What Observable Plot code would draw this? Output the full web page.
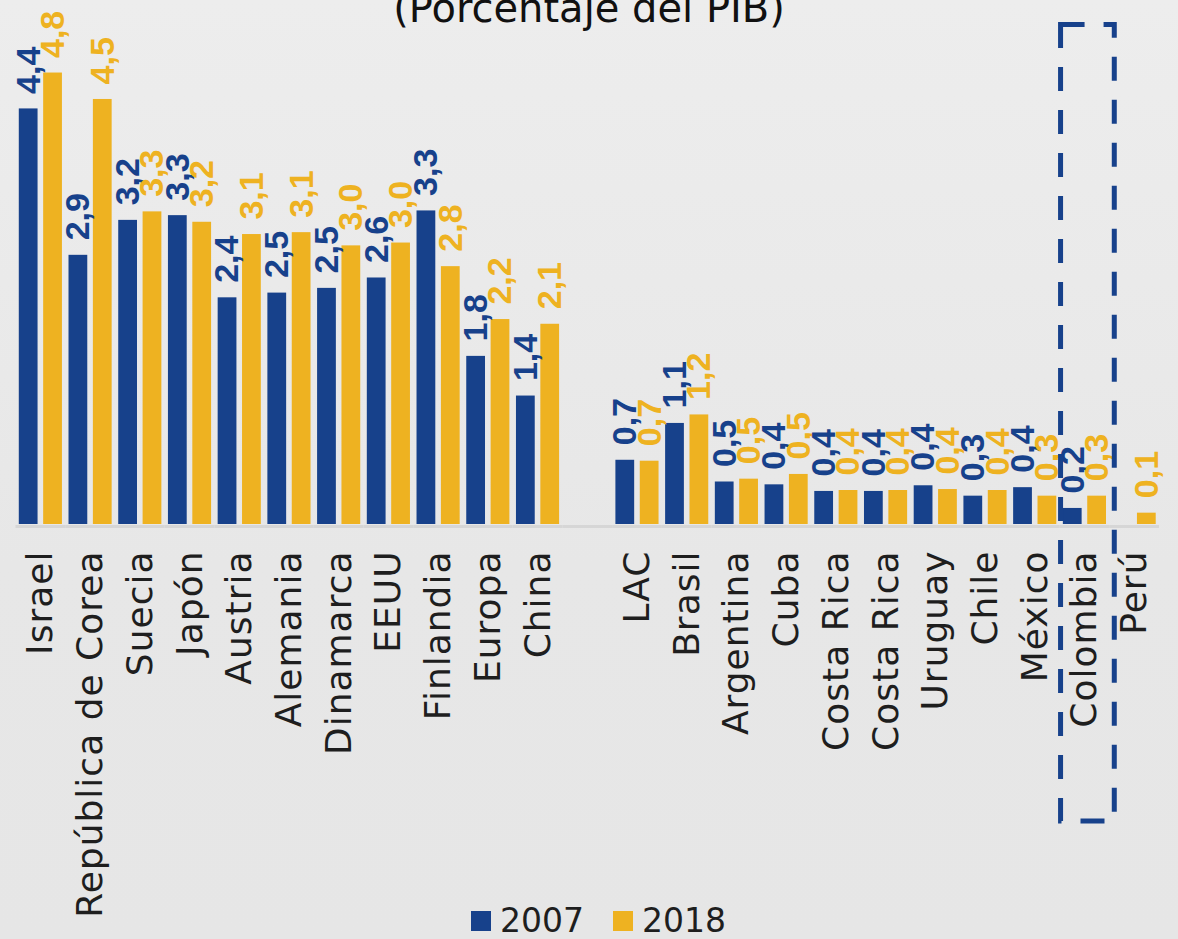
<!DOCTYPE html>
<html>
<head>
<meta charset="utf-8">
<script src="https://cdn.jsdelivr.net/npm/d3@7"></script>
<script src="https://cdn.jsdelivr.net/npm/@observablehq/plot@0.6"></script>
<style>
  html, body { margin: 0; padding: 0; }
  body {
    width: 1178px; height: 939px; overflow: hidden; position: relative;
    background: linear-gradient(#ededed, #e7e7e7 60%, #e6e6e6);
    font-family: "DejaVu Sans", sans-serif;
  }
  #title {
    position: absolute; left: 0; top: -12px; width: 1178px; text-align: center;
    font-size: 40px; line-height: 40px; color: #111;
  }
  #chart { position: absolute; left: 0; top: 0; }
  #legend {
    position: absolute; left: 471px; top: 903px; display: flex; align-items: center;
    font-size: 33px; color: #1e1e1e; line-height: 36px;
  }
  .sw { width: 20px; height: 20px; display: inline-block; margin-right: 9px; }
  .item { display: flex; align-items: center; margin-right: 29px; }
</style>
</head>
<body>
<div id="title">(Porcentaje del PIB)</div>
<div id="chart"></div>
<div id="legend"></div>
<script>
const categories = ["Israel","República de Corea","Suecia","Japón","Austria","Alemania","Dinamarca","EEUU","Finlandia","Europa","China","",
  "LAC","Brasil","Argentina","Cuba","Costa Rica","Costa Rica","Uruguay","Chile","México","Colombia","Perú"];
const series = ["2007","2018"];
const v2007 = [4.40,2.85,3.22,3.27,2.40,2.45,2.50,2.61,3.32,1.78,1.36,null,
  0.68,1.07,0.45,0.42,0.35,0.35,0.41,0.30,0.39,0.17,null];
const v2018 = [4.78,4.50,3.31,3.20,3.07,3.09,2.95,2.98,2.73,2.17,2.12,null,
  0.67,1.16,0.48,0.53,0.36,0.36,0.37,0.36,0.30,0.30,0.12];
const lab2007 = ["4,4","2,9","3,2","3,3","2,4","2,5","2,5","2,6","3,3","1,8","1,4","",
  "0,7","1,1","0,5","0,4","0,4","0,4","0,4","0,3","0,4","0,2",""];
const lab2018 = ["4,8","4,5","3,3","3,2","3,1","3,1","3,0","3,0","2,8","2,2","2,1","",
  "0,7","1,2","0,5","0,5","0,4","0,4","0,4","0,4","0,3","0,3","0,1"];
const highlighted = ["Colombia"];

const BLUE = "#17418b", GOLD = "#eeb221";

const rows = [];
categories.forEach((c, i) => {
  if (v2007[i] != null) rows.push({k: i, s: "2007", v: v2007[i], lab: lab2007[i]});
  if (v2018[i] != null) rows.push({k: i, s: "2018", v: v2018[i], lab: lab2018[i]});
});
const keys = d3.range(categories.length);
const hl = highlighted.map(h => categories.indexOf(h));

const chart = Plot.plot({
  width: 1178,
  height: 905,
  marginTop: 22,
  marginBottom: 381,
  marginLeft: 15.5,
  marginRight: 19,
  fx: {domain: keys, padding: 0, round: false},
  x: {domain: series, paddingInner: 0.23, paddingOuter: 0.135, round: false, axis: null},
  y: {domain: [0, 5.315], axis: null},
  color: {domain: series, range: [BLUE, GOLD]},
  style: {background: "transparent", overflow: "visible", fontFamily: "DejaVu Sans"},
  marks: [
    Plot.ruleY(keys, {fx: d => d, y: 0, stroke: "#d6d6d6", strokeWidth: 3, dy: 2}),
    Plot.barY(rows, {fx: "k", x: "s", y: "v", fill: "s"}),
    Plot.text(rows, {fx: "k", x: "s", y: "v", text: "lab", fill: "s", rotate: -90,
      textAnchor: "start", dy: -15, fontSize: 34, fontWeight: "bold", fontFamily: "Liberation Sans"}),
    Plot.axisFx({anchor: "bottom", tickRotate: -90, tickSize: 0, tickPadding: 26,
      fontSize: 36, fontFamily: "DejaVu Sans", fill: "#1e1e1e", label: null,
      tickFormat: i => categories[i]}),
    Plot.rect(hl, {fx: d => d, stroke: BLUE, strokeWidth: 5, fill: "none",
      strokeDasharray: "24,19", insetTop: 2.5, insetLeft: 1, insetRight: -5, insetBottom: -297})
  ]
});
chart.querySelectorAll("text").forEach(t => {
  if (t.closest("[aria-label='fx-axis tick label']")) t.style.letterSpacing = "1px";
});
document.getElementById("chart").appendChild(chart);

const legend = document.getElementById("legend");
series.forEach((s, i) => {
  const it = document.createElement("div");
  it.className = "item";
  it.innerHTML = `<span class="sw" style="background:${i ? GOLD : BLUE}"></span><span>${s}</span>`;
  legend.appendChild(it);
});
</script>
</body>
</html>
